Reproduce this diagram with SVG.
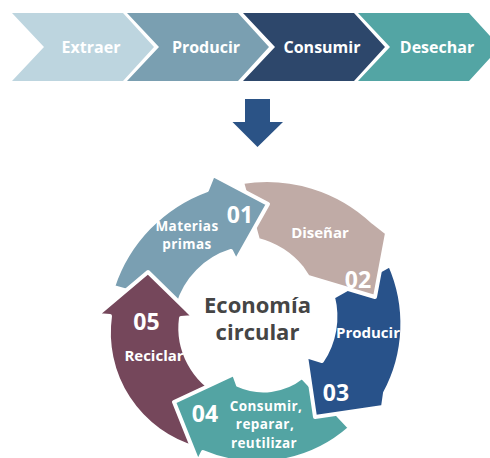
<svg xmlns="http://www.w3.org/2000/svg" width="490" height="458" viewBox="0 0 490 458">
  <style>
    .chev text { font-family: "Open Sans", "Liberation Sans", sans-serif; font-weight: 700; font-size: 16px; fill: #ffffff; text-anchor: middle; }
    .arc { stroke: #ffffff; stroke-width: 4; stroke-linejoin: round; }
    .lbl { font-family: "Open Sans", "Liberation Sans", sans-serif; font-weight: 700; font-size: 15px; fill: #ffffff; text-anchor: middle; }
    .sm { font-size: 13.5px; letter-spacing: 0.4px; }
    .num { font-size: 23px; }
    .title { font-family: "Open Sans", "Liberation Sans", sans-serif; font-weight: 700; font-size: 22px; fill: #454545; text-anchor: middle; }
  </style>
  <defs>
    <path id="a05" d="M196 448 A120 120 0 0 1 110 316 L97 315 L148 272 L194 317 L181 318 A75 75 0 0 0 222 395 Z"/>
    <clipPath id="head05"><rect x="80" y="255" width="130" height="57"/></clipPath>
  </defs>

  <rect width="490" height="458" fill="#ffffff"/>

  <!-- linear process -->
  <g id="step-extraer" class="chev">
    <path d="M12 13 H123 L154 47 L123 81 H12 L44 47 Z" fill="#BDD5DF"/>
    <text x="91" y="53">Extraer</text>
  </g>
  <g id="step-producir" class="chev">
    <path d="M127 13 H238 L269 47 L238 81 H127 L159 47 Z" fill="#7A9FB1"/>
    <text x="206" y="53">Producir</text>
  </g>
  <g id="step-consumir" class="chev">
    <path d="M243 13 H354 L385 47 L354 81 H243 L275 47 Z" fill="#2D476B"/>
    <text x="322" y="53">Consumir</text>
  </g>
  <g id="step-desechar" class="chev">
    <path d="M358 13 H469 L500 47 L469 81 H358 L390 47 Z" fill="#53A5A4"/>
    <text x="437" y="53">Desechar</text>
  </g>

  <g id="connectors">
    <path d="M245 99 H270 V122 H283 L257.5 147 L232.5 122 H245 Z" fill="#2B5386"/>
  </g>

  <!-- circular economy ring -->
  <g id="n05">
    <use href="#a05" class="arc" fill="#75475B"/>
    <text class="lbl num" x="146.5" y="330">05</text>
    <text class="lbl" x="154" y="361">Reciclar</text>
  </g>
  <g id="n04">
    <path class="arc" fill="#53A4A3" d="M350 428 A140 140 0 0 1 203 452 L198 462 L174 402 L234 374 L238 385 A62 62 0 0 0 302 377 Z"/>
    <text class="lbl num" x="205" y="422">04</text>
    <text class="lbl sm" x="266" y="410.5">Consumir,</text>
    <text class="lbl sm" x="265" y="429">reparar,</text>
    <text class="lbl sm" x="264" y="447.5">reutilizar</text>
  </g>
  <g id="n03">
    <path class="arc" fill="#28528A" d="M390 265 A146 146 0 0 1 385 393 L383 407 L315 417 L306 356 L322 361 A80 80 0 0 0 333 297 Z"/>
    <text class="lbl" x="368" y="338">Producir</text>
    <text class="lbl num" x="336" y="401">03</text>
  </g>
  <g id="n02">
    <path class="arc" fill="#C0ABA6" d="M242 182 A155 155 0 0 1 373 222 L387 233 L375 297 L308 277 L302 268 A85 85 0 0 0 258 240 Z"/>
    <text class="lbl" x="320" y="238">Diseñar</text>
    <text class="lbl num" x="358" y="288">02</text>
  </g>
  <g id="n01">
    <path class="arc" fill="#7A9FB2" d="M113 287 A155 155 0 0 1 207 190 L213 175 L268 204 L236 261 L231 251 A80 80 0 0 0 178 305 Z"/>
    <text class="lbl sm" x="187" y="230.5">Materias</text>
    <text class="lbl sm" x="187" y="249">primas</text>
    <text class="lbl num" x="240" y="223">01</text>
  </g>
  <!-- 05 arrowhead sits over the tail of 01 -->
  <use href="#a05" class="arc" fill="#75475B" clip-path="url(#head05)"/>

  <g id="center">
    <text class="title" x="257.5" y="313">Economía</text>
    <text class="title" x="257.5" y="340">circular</text>
  </g>
</svg>
